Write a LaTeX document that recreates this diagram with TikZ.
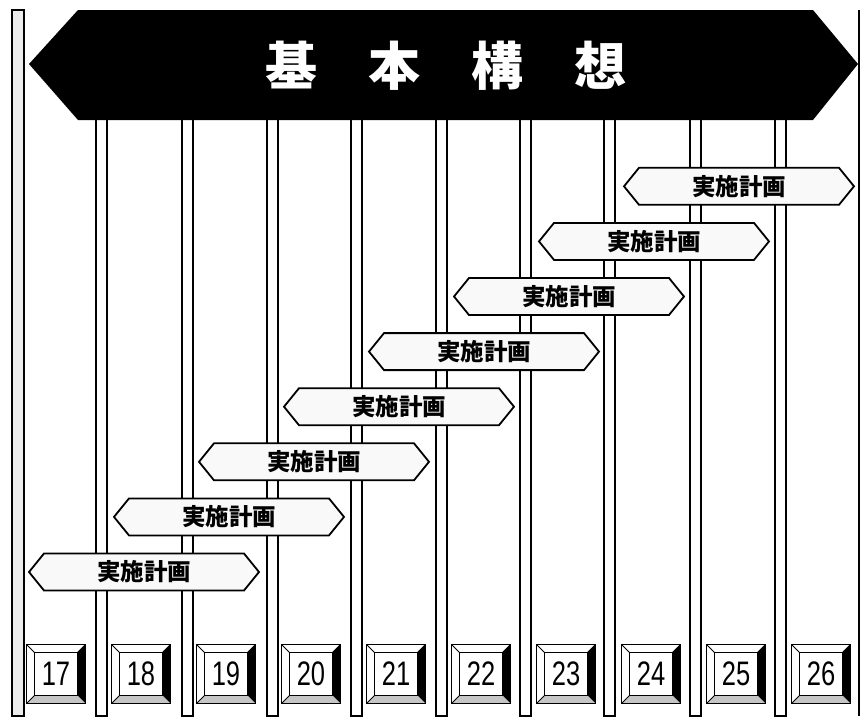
\documentclass[tikz,border=0pt]{standalone}
\usepackage{fontspec}
\newfontfamily\cjk{Noto Sans CJK JP}
\newfontfamily\numfont{Liberation Sans}
\begin{document}
\begin{tikzpicture}[x=1pt,y=-1pt,
  postline/.style={draw=black,line width=1.1pt,fill=white},
  signbox/.style={draw=black,line width=1.8pt,fill=gray!5,line join=miter},
  signtext/.style={font=\cjk\bfseries\fontsize{23.5}{23.5}\selectfont,inner sep=0pt},
  titletext/.style={font=\cjk\bfseries\fontsize{52}{52}\selectfont,text=white,inner sep=0pt},
  numtext/.style={font=\numfont\fontsize{34}{34}\selectfont,xscale=0.75,inner sep=0pt}]
\useasboundingbox (0,0) rectangle (862,716);
\fill[white] (0,0) rectangle (862,716);
% posts
\draw[postline,fill=gray!15] (12,10) rectangle (24,716);
\foreach \a in {96,182,267,351,436,520,604,690,775}{
  \draw[postline] (\a,118) rectangle (\a+11,716);
}
\draw[line width=1.1pt] (859,10) -- (859,716);
% banner
\fill[black] (29,64) -- (78,10) -- (813,10) -- (858,64) -- (813,120) -- (78,120) -- cycle;
\node[titletext] (title) at (446,66) {基\hspace{51pt}本\hspace{51pt}構\hspace{51pt}想};
% signs
\foreach \i in {0,...,7}{
  \pgfmathsetmacro\L{29+85*\i}
  \pgfmathsetmacro\Y{572-55.1*\i}
  \draw[signbox] (\L,\Y) -- (\L+15,\Y-18.5) -- (\L+215,\Y-18.5) -- (\L+230,\Y)
     -- (\L+215,\Y+18.5) -- (\L+15,\Y+18.5) -- cycle;
  \node[signtext] (plan\i) at (\L+115,\Y) {実施計画};
}
% year boxes
\foreach \n [count=\i from 0] in {17,...,26}{
  \pgfmathsetmacro\cx{56+85*\i}
  \def\cy{674}
  \fill[white] (\cx-29.5,\cy-29.5) rectangle (\cx+29.5,\cy+29.5);
  \fill[black] (\cx+29.5,\cy-29.5) -- (\cx+29.5,\cy+29.5) -- (\cx+21.5,\cy+21.5) -- (\cx+21.5,\cy-21.5) -- cycle;
  \fill[gray!45] (\cx-29.5,\cy+29.5) -- (\cx+29.5,\cy+29.5) -- (\cx+21.5,\cy+21.5) -- (\cx-21.5,\cy+21.5) -- cycle;
  \draw[line width=1.5pt] (\cx-29.5,\cy-29.5) rectangle (\cx+29.5,\cy+29.5);
  \draw[line width=1.1pt,fill=white] (\cx-21.5,\cy-21.5) rectangle (\cx+21.5,\cy+21.5);
  \draw[line width=0.9pt] (\cx-29.5,\cy-29.5) -- (\cx-21.5,\cy-21.5)
     (\cx+29.5,\cy-29.5) -- (\cx+21.5,\cy-21.5)
     (\cx-29.5,\cy+29.5) -- (\cx-21.5,\cy+21.5);
  \node[numtext] (year\n) at (\cx,\cy) {\n};
}
\end{tikzpicture}
\end{document}
